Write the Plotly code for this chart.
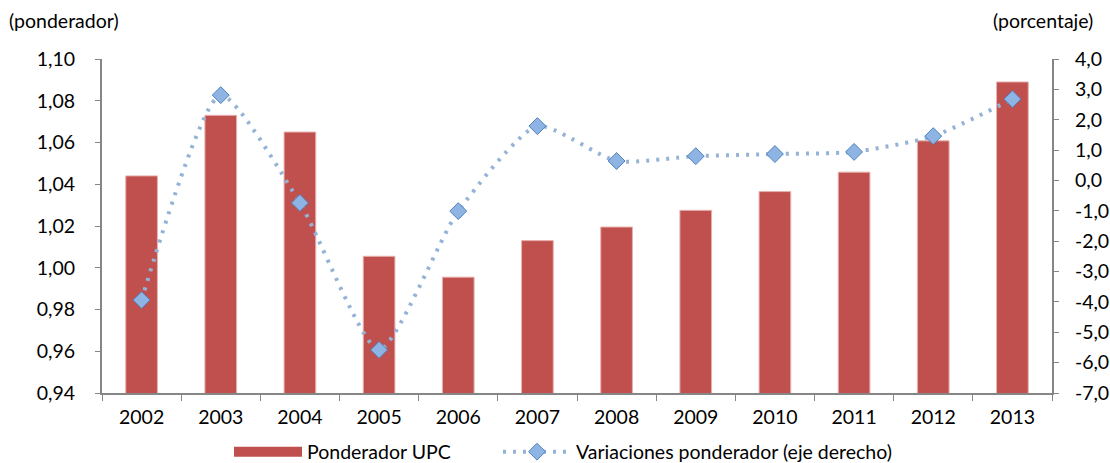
import plotly.graph_objects as go

years = ["2002", "2003", "2004", "2005", "2006", "2007", "2008", "2009", "2010", "2011", "2012", "2013"]
ponderador_upc = [1.044, 1.073, 1.065, 1.0055, 0.9955, 1.013, 1.0195, 1.0275, 1.0365, 1.0458, 1.0608, 1.089]
variaciones = [-3.94, 2.81, -0.74, -5.58, -1.01, 1.79, 0.64, 0.80, 0.87, 0.94, 1.46, 2.68]

left_ticks = [0.94, 0.96, 0.98, 1.00, 1.02, 1.04, 1.06, 1.08, 1.10]
left_labels = ["0,94", "0,96", "0,98", "1,00", "1,02", "1,04", "1,06", "1,08", "1,10"]
right_ticks = [-7, -6, -5, -4, -3, -2, -1, 0, 1, 2, 3, 4]
right_labels = ["-7,0", "-6,0", "-5,0", "-4,0", "-3,0", "-2,0", "-1,0", "0,0", "1,0", "2,0", "3,0", "4,0"]

FONT = "Lato, 'Open Sans', sans-serif"
FS = 19.5
AXIS_COLOR = "#868686"
BAR_COLOR = "#C0504D"

fig = go.Figure()
fig.add_trace(go.Bar(
    x=years, y=ponderador_upc, name="Ponderador UPC",
    marker=dict(color=BAR_COLOR, line=dict(color="#E6B0AE", width=1)),
    width=0.4, yaxis="y", showlegend=False, legendgroup="upc",
))
# legend-only entry so the legend swatch is a wide rectangle, as in the original
fig.add_trace(go.Scatter(
    x=[None], y=[None], name="Ponderador UPC", mode="lines",
    line=dict(color=BAR_COLOR, width=11), legendgroup="upc", showlegend=True,
    legend="legend",
))
fig.add_trace(go.Scatter(
    x=years, y=variaciones, name="Variaciones ponderador (eje derecho)",
    mode="lines+markers", yaxis="y2", legend="legend2",
    line=dict(color="#95B3D7", width=4, dash="3px,7px", shape="spline", smoothing=0.6),
    marker=dict(symbol="diamond", size=13, color="#8EB4E3", line=dict(color="#4F81BD", width=1)),
))

legend_common = dict(orientation="h", xanchor="left", xref="container",
                     y=11 / 463, yanchor="middle", yref="container",
                     font=dict(size=FS), itemwidth=68, bgcolor="rgba(0,0,0,0)")

fig.update_layout(
    template="none",
    width=1110, height=463,
    margin=dict(l=102, r=58, t=59, b=70, autoexpand=False),
    plot_bgcolor="white", paper_bgcolor="white",
    font=dict(family=FONT, size=FS, color="#000000"),
    showlegend=True,
    legend=dict(x=229 / 1110, **legend_common),
    legend2=dict(x=498 / 1110, **legend_common),
    bargap=0.6,
    xaxis=dict(
        type="category", range=[-0.5, len(years) - 0.5],
        showline=True, linecolor=AXIS_COLOR, linewidth=2,
        ticks="outside", tickson="boundaries", ticklen=6, tickcolor=AXIS_COLOR,
        showgrid=False, tickfont=dict(size=FS), automargin=False, ticklabelstandoff=6,
    ),
    yaxis=dict(
        range=[0.94, 1.10], tickvals=left_ticks, ticktext=left_labels,
        showline=True, linecolor=AXIS_COLOR, linewidth=2,
        ticks="outside", ticklen=5, tickcolor=AXIS_COLOR,
        showgrid=False, zeroline=False, tickfont=dict(size=FS), automargin=False,
        ticklabelstandoff=16,
    ),
    yaxis2=dict(
        range=[-7, 4], tickvals=right_ticks, ticktext=right_labels,
        overlaying="y", side="right",
        showline=True, linecolor=AXIS_COLOR, linewidth=2,
        ticks="outside", ticklen=5, tickcolor=AXIS_COLOR,
        showgrid=False, zeroline=False, tickfont=dict(size=FS), automargin=False,
        ticklabelstandoff=12,
    ),
    annotations=[
        dict(text="(ponderador)", xref="paper", yref="paper", x=-0.1, y=1.0, yshift=39,
             xanchor="left", yanchor="middle", showarrow=False, font=dict(size=FS)),
        dict(text="(porcentaje)", xref="paper", yref="paper", x=1.045, y=1.0, yshift=39,
             xanchor="right", yanchor="middle", showarrow=False, font=dict(size=FS)),
    ],
)

fig.write_html("out.html", config={"displayModeBar": False},
               post_script="document.body.style.margin='0';")
